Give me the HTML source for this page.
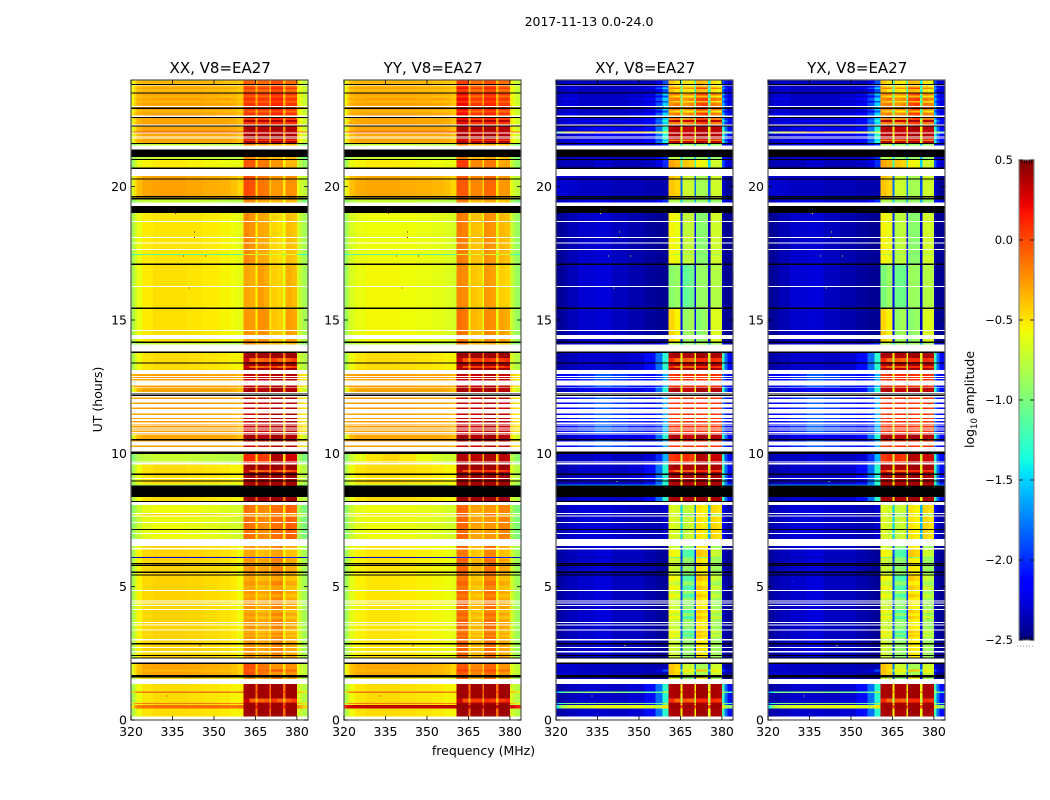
<!DOCTYPE html>
<html>
<head>
<meta charset="utf-8">
<title>2017-11-13 0.0-24.0</title>
<style>
html,body{margin:0;padding:0;background:#fff;width:1050px;height:800px;overflow:hidden}
svg{display:block}
text{font-family:"DejaVu Sans","Liberation Sans",sans-serif;fill:#000}
</style>
</head>
<body>
<svg id="figure" xmlns="http://www.w3.org/2000/svg" width="1050" height="800" viewBox="0 0 1050 800">
<rect x="0" y="0" width="1050" height="800" fill="#fff"/>
<text x="589" y="26" font-size="12.5" text-anchor="middle">2017-11-13 0.0-24.0</text>
<text x="0" y="0" font-size="12.5" text-anchor="middle" transform="translate(102,399.5) rotate(-90)">UT (hours)</text>
<text x="483.5" y="755" font-size="12.5" text-anchor="middle">frequency (MHz)</text>
<text x="0" y="0" font-size="12.5" text-anchor="middle" transform="translate(974,399.5) rotate(-90)">log<tspan font-size="8.5" dy="3">10</tspan><tspan dy="-3"> amplitude</tspan></text>
<g id="panels"></g>
<g id="colorbar"></g>
</svg>
<script>
// Frequency channel edges (MHz)
const freqEdges = [320,321,322,324,328,334,340,346,352,356,358.5,360.6,362.8,365.1,365.8,368,370,370.6,372.8,375,375.8,378,380,381,382,384];
const xTickValues = [320,335,350,365,380];
const yTickValues = [0,5,10,15,20];
const colorbarTicks = [0.5,0,-0.5,-1,-1.5,-2,-2.5];
const panelTitles = ["XX, V8=EA27","YY, V8=EA27","XY, V8=EA27","YX, V8=EA27"];

// Spectrum classes, one row per class in each spectra array
const spectrumClasses = ["a","a1","a2","b","b2","b3","c","e","E","f","d","g","g2","h","d2","L","G","R","N","C","e2","i"];

// Time rows: [end hour, spectrum class]; W = no data, K = flagged
const timeRows = [
[.13,"W"],[.44,"e"],[.56,"E"],[.60,"e"],[.64,"L"],[.66,"e"],[.80,"e2"],[1.02,"e"],[1.06,"L"],[1.35,"e"],[1.53,"W"],[1.59,"b"],[1.69,"K"],[1.82,"c"],[1.9,"h"],[2.10,"c"],[2.15,"K"],[2.31,"W"],[2.35,"K"],[2.40,"b"],[2.44,"K"],[2.54,"b"],[2.58,"W"],[2.70,"b"],[2.74,"W"],[2.84,"b"],[2.88,"K"],[2.98,"b"],[3.03,"W"],[3.12,"b"],[3.2,"i"],[3.27,"b"],[3.35,"i"],[3.40,"W"],[3.54,"b"],[3.58,"W"],[3.63,"b"],[3.67,"W"],[3.78,"b"],[3.9,"i"],[4.02,"b"],[4.13,"i"],[4.17,"W"],[4.27,"b"],[4.31,"W"],[4.36,"b"],[4.40,"W"],[4.45,"b"],[4.49,"W"],[4.6,"b"],[4.72,"i"],[4.84,"b"],[4.88,"W"],[5.05,"i"],[5.22,"b"],[5.42,"i"],[5.46,"K"],[5.52,"b"],[5.56,"K"],[5.78,"b"],[5.82,"K"],[5.84,"b"],[5.88,"K"],[6.08,"b"],[6.12,"N"],[6.40,"i"],[6.45,"W"],[6.53,"b"],[6.79,"W"],[6.98,"b2"],[7.02,"W"],[7.13,"b2"],[7.17,"K"],[7.39,"b2"],[7.43,"W"],[7.63,"b2"],[7.67,"W"],[7.73,"b"],[7.77,"W"],[8.06,"b2"],[8.18,"W"],[8.22,"K"],[8.36,"e"],[8.80,"K"],[8.84,"G"],[8.95,"e"],[8.99,"K"],[9.03,"e"],[9.07,"W"],[9.19,"e"],[9.24,"K"],[9.30,"e"],[9.38,"e2"],[9.59,"e"],[9.63,"W"],[9.65,"d2"],[9.69,"W"],[9.98,"d2"],[10.07,"K"],[10.24,"W"],[10.29,"f"],[10.42,"W"],[10.44,"f"],[10.46,"W"],[10.49,"f"],[10.54,"K"],[10.71,"d"],[10.74,"W"],[10.77,"f"],[10.80,"W"],[10.83,"f"],[10.86,"W"],[10.90,"f"],[10.93,"W"],[10.96,"f"],[10.99,"W"],[11.02,"f"],[11.05,"W"],[11.09,"f"],[11.16,"W"],[11.21,"f"],[11.28,"W"],[11.33,"f"],[11.44,"W"],[11.49,"f"],[11.66,"W"],[11.71,"f"],[11.85,"W"],[11.90,"f"],[12.04,"W"],[12.09,"f"],[12.15,"W"],[12.19,"K"],[12.20,"W"],[12.24,"K"],[12.30,"W"],[12.46,"d"],[12.48,"W"],[12.55,"f"],[12.74,"W"],[12.78,"f"],[12.83,"W"],[12.87,"f"],[12.90,"W"],[12.97,"f"],[13.12,"W"],[13.2,"e"],[13.27,"e2"],[13.36,"e"],[13.40,"K"],[13.43,"e"],[13.57,"e2"],[13.77,"e"],[13.81,"K"],[14.09,"W"],[14.13,"b3"],[14.20,"K"],[14.28,"a1"],[14.44,"W"],[14.58,"a1"],[14.62,"W"],[15.42,"a1"],[15.46,"K"],[16.23,"a"],[16.27,"W"],[17.07,"a"],[17.11,"K"],[17.44,"a2"],[17.48,"C"],[17.63,"a2"],[17.67,"W"],[17.86,"a2"],[17.90,"W"],[18.08,"a2"],[18.12,"W"],[18.67,"a2"],[18.71,"W"],[19.02,"a2"],[19.27,"K"],[19.40,"W"],[19.51,"b3"],[19.59,"K"],[19.61,"c"],[19.65,"K"],[20.26,"c"],[20.30,"K"],[20.40,"c"],[20.67,"W"],[20.72,"K"],[21.00,"g"],[21.04,"K"],[21.12,"b3"],[21.39,"K"],[21.55,"W"],[21.60,"b3"],[21.64,"K"],[21.72,"d"],[21.76,"g2"],[21.81,"d"],[21.84,"W"],[21.86,"d"],[21.89,"W"],[21.99,"d"],[22.03,"W"],[22.06,"R"],[22.26,"d"],[22.30,"K"],[22.34,"W"],[22.42,"g2"],[22.5,"d"],[22.57,"g2"],[22.61,"K"],[22.66,"W"],[22.78,"g2"],[22.85,"h"],[22.92,"g2"],[22.96,"K"],[22.99,"g2"],[23.03,"W"],[23.15,"g2"],[23.22,"h"],[23.35,"g2"],[23.42,"h"],[23.49,"g2"],[23.53,"K"],[23.66,"h"],[23.72,"g2"],[23.79,"h"],[23.82,"W"],[23.85,"K"],[24,"h"]
];

const spectraXX = [
[-.85,-.72,-.6,-.52,-.48,-.48,-.5,-.52,-.55,-.58,-.62,-.3,-.32,-.55,-.27,-.32,-.55,-.42,-.45,-.6,-.32,-.37,-.65,-.75,-.85],
[-.85,-.72,-.6,-.52,-.48,-.48,-.5,-.52,-.55,-.58,-.62,-.24,-.26,-.55,-.22,-.24,-.55,-.4,-.42,-.6,-.27,-.3,-.65,-.75,-.85],
[-.85,-.72,-.6,-.52,-.5,-.5,-.5,-.52,-.55,-.58,-.62,-.2,-.24,-.55,-.3,-.32,-.55,-.45,-.48,-.6,-.37,-.4,-.65,-.75,-.85],
[-.85,-.72,-.55,-.46,-.44,-.44,-.45,-.47,-.49,-.52,-.58,-.26,-.24,-.5,-.3,-.28,-.5,-.2,-.18,-.55,-.3,-.32,-.62,-.75,-.85],
[-.95,-.85,-.72,-.62,-.58,-.58,-.6,-.62,-.65,-.68,-.7,-.12,-.14,-.55,-.2,-.22,-.5,-.12,-.12,-.5,-.06,-.1,-.8,-.9,-1],
[-.95,-.88,-.8,-.75,-.72,-.72,-.72,-.75,-.78,-.8,-.8,-.2,-.2,-.5,-.3,-.3,-.5,-.35,-.35,-.6,-.35,-.35,-.85,-.9,-1],
[-.65,-.5,-.38,-.3,-.28,-.28,-.3,-.32,-.34,-.38,-.45,0,-.02,-.45,-.14,-.16,-.45,-.25,-.25,-.5,-.22,-.24,-.6,-.7,-.75],
[-.85,-.72,-.58,-.5,-.47,-.47,-.48,-.5,-.52,-.55,-.55,.4,.42,-.12,.42,.4,-.12,.42,.42,-.12,.42,.42,-.65,-.72,-.8],
[-.5,-.3,-.15,-.12,-.1,-.1,-.1,-.1,-.12,-.14,-.1,.42,.44,.15,.42,.42,.15,.42,.42,.15,.42,.42,-.2,-.3,-.45],
[-.35,-.3,-.28,-.28,-.27,-.27,-.27,-.28,-.28,-.3,-.35,.3,.32,-.4,.3,.3,-.4,.35,.35,-.4,.35,.35,-.4,-.45,-.5],
[-.7,-.5,-.36,-.3,-.3,-.3,-.3,-.3,-.3,-.32,-.38,.38,.4,-.25,.36,.36,-.25,.4,.4,-.25,.38,.36,-.45,-.6,-.7],
[-.9,-.75,-.6,-.55,-.52,-.52,-.54,-.56,-.58,-.6,-.6,-.05,-.05,-.5,-.15,-.15,-.5,-.25,-.25,-.55,-.35,-.35,-.7,-.8,-.9],
[-.55,-.42,-.32,-.3,-.28,-.28,-.28,-.3,-.3,-.32,-.38,.06,.06,-.3,.06,.04,-.3,.12,.12,-.3,.06,.06,-.5,-.6,-.7],
[-.6,-.48,-.38,-.35,-.35,-.35,-.35,-.36,-.38,-.4,-.42,-.05,-.08,-.35,-.1,-.1,-.35,0,0,-.38,-.1,-.12,-.55,-.65,-.75],
[-1,-.9,-.8,-.75,-.72,-.72,-.74,-.76,-.78,-.8,-.75,.12,.1,-.5,.06,.04,-.5,.38,.38,-.5,.3,.28,-.8,-.9,-1],
[-.5,-.3,-.18,-.15,-.15,-.15,-.15,-.15,-.15,-.2,-.15,.4,.4,.05,.4,.4,.05,.4,.4,.05,.4,.4,-.3,-.4,-.5],
[-1,-.9,-.85,-.85,-.85,-.85,-.85,-.85,-.85,-.85,-.7,.3,.3,-.2,.3,.3,-.2,.3,.3,-.2,.3,.3,-.8,-.9,-1],
[-.2,-.1,0,0,0,0,0,0,0,0,0,.3,.3,.1,.3,.3,.1,.3,.3,.1,.3,.3,-.1,-.1,-.1],
[-2.3,-2.3,-2.3,-2.3,-2.3,-2.3,-2.3,-2.3,-2.3,-2.3,-2.3,-2,-2,-2.2,-2,-2,-2.2,-2,-2,-2.2,-2,-2,-2.3,-2.3,-2.3],
[-1.3,-1.2,-1.15,-1.15,-1.15,-1.15,-1.15,-1.15,-1.15,-1.15,-1.1,-.7,-.7,-1,-.7,-.7,-1,-.7,-.7,-1,-.7,-.7,-1.2,-1.2,-1.3],
[-.85,-.72,-.58,-.5,-.47,-.47,-.48,-.5,-.52,-.55,-.55,.3,-.08,-.35,-.1,-.05,-.35,.05,-.08,-.35,-.05,.05,-.65,-.72,-.8],
[-.85,-.72,-.55,-.46,-.44,-.44,-.45,-.47,-.49,-.52,-.58,-.32,-.3,-.5,-.38,-.36,-.5,-.3,-.28,-.55,-.38,-.4,-.62,-.75,-.85]
];

const spectraYY = [
[-.9,-.78,-.66,-.6,-.56,-.56,-.58,-.6,-.62,-.64,-.68,-.2,-.22,-.6,-.4,-.42,-.6,-.25,-.28,-.62,-.42,-.45,-.68,-.8,-.9],
[-.9,-.78,-.66,-.6,-.56,-.56,-.58,-.6,-.62,-.64,-.68,-.12,-.15,-.6,-.35,-.38,-.6,-.2,-.22,-.62,-.28,-.32,-.68,-.8,-.9],
[-.9,-.78,-.66,-.6,-.58,-.58,-.58,-.6,-.62,-.64,-.68,-.15,-.18,-.6,-.38,-.4,-.6,-.22,-.25,-.62,-.35,-.38,-.68,-.8,-.9],
[-.9,-.78,-.62,-.54,-.5,-.5,-.52,-.54,-.56,-.58,-.62,-.08,-.08,-.55,-.35,-.35,-.55,-.12,-.12,-.58,-.3,-.32,-.65,-.78,-.88],
[-.95,-.85,-.72,-.62,-.58,-.58,-.6,-.62,-.65,-.68,-.7,-.08,-.1,-.5,-.28,-.3,-.5,-.25,-.25,-.5,-.18,-.2,-.8,-.9,-1],
[-.95,-.88,-.8,-.75,-.72,-.72,-.72,-.75,-.78,-.8,-.8,-.15,-.15,-.5,-.35,-.35,-.5,-.3,-.3,-.6,-.4,-.4,-.85,-.9,-1],
[-.65,-.5,-.38,-.32,-.3,-.3,-.32,-.33,-.35,-.38,-.45,-.05,-.05,-.45,-.2,-.2,-.45,-.1,-.1,-.5,-.25,-.25,-.6,-.7,-.75],
[-.85,-.72,-.58,-.5,-.47,-.47,-.48,-.5,-.52,-.55,-.55,.42,.42,-.12,.42,.42,-.12,.42,.42,-.12,.42,.42,-.65,-.72,-.8],
[.15,.25,.3,.32,.34,.34,.34,.34,.34,.34,.34,.45,.45,.3,.45,.45,.3,.45,.45,.3,.45,.45,.3,.25,.15],
[-.35,-.3,-.28,-.28,-.27,-.27,-.27,-.28,-.28,-.3,-.35,.32,.32,-.4,.3,.3,-.4,.35,.35,-.4,.3,.3,-.4,-.45,-.5],
[-.7,-.5,-.36,-.3,-.3,-.3,-.3,-.3,-.3,-.32,-.38,.4,.4,-.25,.36,.36,-.25,.4,.4,-.25,.36,.36,-.45,-.6,-.7],
[-.9,-.75,-.6,-.55,-.52,-.52,-.54,-.56,-.58,-.6,-.6,.05,.05,-.5,-.2,-.2,-.5,-.15,-.15,-.55,-.3,-.3,-.7,-.8,-.9],
[-.55,-.42,-.32,-.3,-.28,-.28,-.28,-.3,-.3,-.32,-.38,.2,.2,-.3,.05,.05,-.3,.12,.12,-.3,.05,.05,-.5,-.6,-.7],
[-.6,-.48,-.38,-.35,-.35,-.35,-.35,-.36,-.38,-.4,-.42,.05,.05,-.35,-.12,-.12,-.35,0,0,-.38,-.12,-.12,-.55,-.65,-.75],
[-.95,-.85,-.72,-.62,-.5,-.45,-.5,-.6,-.68,-.72,-.7,.38,.36,-.4,.36,.34,-.4,.38,.38,-.4,.36,.34,-.75,-.85,-.95],
[-.5,-.3,-.18,-.15,-.15,-.15,-.15,-.15,-.15,-.2,-.15,.4,.4,.05,.4,.4,.05,.4,.4,.05,.4,.4,-.3,-.4,-.5],
[-1,-.9,-.85,-.85,-.85,-.85,-.85,-.85,-.85,-.85,-.7,.3,.3,-.2,.3,.3,-.2,.3,.3,-.2,.3,.3,-.8,-.9,-1],
[-.2,-.1,0,0,0,0,0,0,0,0,0,.3,.3,.1,.3,.3,.1,.3,.3,.1,.3,.3,-.1,-.1,-.1],
[-2.3,-2.3,-2.3,-2.3,-2.3,-2.3,-2.3,-2.3,-2.3,-2.3,-2.3,-2,-2,-2.2,-2,-2,-2.2,-2,-2,-2.2,-2,-2,-2.3,-2.3,-2.3],
[-1.3,-1.2,-1.15,-1.15,-1.15,-1.15,-1.15,-1.15,-1.15,-1.15,-1.1,-.7,-.7,-1,-.7,-.7,-1,-.7,-.7,-1,-.7,-.7,-1.2,-1.2,-1.3],
[-.85,-.72,-.58,-.5,-.47,-.47,-.48,-.5,-.52,-.55,-.55,.3,.0,-.35,.05,.05,-.35,.1,.05,-.35,.05,.1,-.65,-.72,-.8],
[-.9,-.78,-.62,-.54,-.5,-.5,-.52,-.54,-.56,-.58,-.62,-.15,-.15,-.55,-.4,-.42,-.55,-.2,-.2,-.58,-.38,-.4,-.65,-.78,-.88]
];

const spectraXY = [
[-2.45,-2.45,-2.42,-2.35,-2.28,-2.26,-2.33,-2.38,-2.42,-2.44,-2.45,-.95,-.9,-2.2,-1.1,-1.05,-2.25,-.9,-.9,-2.3,-.8,-.8,-2.4,-2.45,-2.45],
[-2.45,-2.45,-2.42,-2.36,-2.3,-2.28,-2.33,-2.38,-2.42,-2.44,-2.45,-.45,-.55,-2.1,-.9,-.85,-2.1,-.95,-.9,-2.3,-.65,-.65,-2.4,-2.45,-2.45],
[-2.45,-2.45,-2.42,-2.36,-2.3,-2.28,-2.33,-2.38,-2.42,-2.44,-2.45,-.55,-.6,-2,-.75,-.75,-2.1,-.95,-.95,-2.3,-.7,-.7,-2.4,-2.45,-2.45],
[-2.45,-2.42,-2.38,-2.34,-2.3,-2.26,-2.33,-2.33,-2.38,-2.42,-2.44,-.7,-.75,-1.9,-.9,-.95,-2,-.5,-.55,-2.2,-.85,-.9,-2.35,-2.4,-2.45],
[-2.42,-2.38,-2.34,-2.3,-2.27,-2.27,-2.3,-2.33,-2.35,-2.35,-2.3,-.65,-.7,-1.5,-.75,-.7,-1.7,-.5,-.55,-1.6,-.45,-.5,-2.1,-2.3,-2.4],
[-2.4,-2.35,-2.3,-2.3,-2.25,-2.25,-2.3,-2.3,-2.3,-2.2,-2,-.8,-.8,-1.5,-.9,-.9,-1.6,-.9,-.9,-1.6,-.9,-.9,-2.1,-2.2,-2.3],
[-2.3,-2.28,-2.28,-2.3,-2.32,-2.32,-2.35,-2.35,-2.38,-2.38,-2.38,-.4,-.45,-1.8,-.7,-.72,-1.8,-.85,-.85,-1.9,-.7,-.7,-2.3,-2.4,-2.45],
[-2.42,-2.4,-2.38,-2.34,-2.3,-2.3,-2.32,-2.28,-2.1,-1.8,-1.3,.38,.4,-.55,.38,.38,-.55,.42,.42,-.6,.4,.38,-1.2,-1.8,-2.1],
[-1.3,-1,-.8,-.7,-.65,-.6,-.6,-.6,-.65,-.7,-.5,.42,.42,0,.42,.42,0,.42,.42,0,.42,.42,-.5,-.8,-.9],
[-2.25,-2.2,-2.15,-2.1,-2,-1.85,-1.95,-2.05,-2.1,-2,-1.6,.05,.1,-.65,.1,.1,-.7,.1,.05,-.7,.1,.05,-1.8,-2.05,-2.2],
[-2.4,-2.36,-2.32,-2.28,-2.22,-2.12,-2.2,-2.22,-2.1,-1.8,-1.3,.35,.38,-.6,.32,.32,-.6,.4,.4,-.6,.36,.34,-1.3,-1.8,-2.1],
[-2.42,-2.38,-2.35,-2.35,-2.35,-2.3,-2.35,-2.35,-2.33,-2.25,-2,-.3,-.35,-1.2,-.4,-.45,-1.2,-.55,-.6,-1.5,-.7,-.7,-1.9,-2.2,-2.3],
[-2.4,-2.3,-2.25,-2.25,-2.3,-2.3,-2.3,-2.25,-2.12,-1.9,-1.5,-.2,-.15,-.9,-.25,-.2,-1,0,.05,-1,-.15,-.2,-1.6,-2,-2.2],
[-2.42,-2.38,-2.33,-2.3,-2.33,-2.33,-2.33,-2.33,-2.33,-2.22,-1.9,-.4,-.5,-1.2,-.5,-.55,-1.3,-.35,-.4,-1.4,-.5,-.6,-1.9,-2.2,-2.3],
[-2.42,-2.38,-2.33,-2.33,-2.33,-2.28,-2.33,-2.33,-2.28,-2,-1.6,.05,.1,-.7,.1,.05,-.7,.38,.35,-.7,.3,.3,-1.3,-1.9,-2.1],
[-1.6,-1.3,-1.1,-1,-.95,-.95,-.95,-1,-1.1,-1.1,-.8,.4,.4,-.2,.4,.4,-.2,.4,.4,-.2,.4,.4,-.8,-1,-1.2],
[-1.8,-1.7,-1.7,-1.7,-1.7,-1.7,-1.7,-1.7,-1.7,-1.6,-1.4,.3,.3,-.6,.3,.3,-.6,.3,.3,-.6,.3,.3,-1.4,-1.6,-1.7],
[-1.3,-.9,-.7,-.55,-.45,-.3,-.45,-.5,-.55,-.7,-.6,.3,.3,-.3,.3,.3,-.3,.3,.3,-.3,.3,.3,-.7,-.9,-1.1],
[-2.4,-2.4,-2.4,-2.4,-2.4,-2.4,-2.4,-2.4,-2.4,-2.4,-2.4,-1,-1,-2.2,-1,-1,-2.2,-1,-1,-2.2,-1,-1,-2.4,-2.4,-2.4],
[-2.4,-2.4,-2.4,-2.35,-2.3,-2.3,-2.35,-2.4,-2.4,-2.4,-2.4,-.8,-.8,-2,-.9,-.9,-2,-1,-1,-2.2,-.9,-.9,-2.4,-2.4,-2.4],
[-2.42,-2.4,-2.38,-2.34,-2.3,-2.3,-2.32,-2.28,-2.1,-1.8,-1.3,.1,-.1,-.8,-.05,-.1,-.8,.1,.1,-.8,.1,.05,-1.3,-1.8,-2.1],
[-2.45,-2.42,-2.38,-2.34,-2.3,-2.26,-2.33,-2.33,-2.38,-2.42,-2.44,-.55,-.6,-1.9,-1.15,-1.2,-2,-.4,-.45,-2.2,-.7,-.75,-2.35,-2.4,-2.45]
];

const spectraYX = [
[-2.45,-2.45,-2.42,-2.35,-2.28,-2.26,-2.33,-2.38,-2.42,-2.44,-2.45,-1,-.9,-2.2,-1.05,-1.05,-2.25,-.88,-.9,-2.3,-.8,-.8,-2.4,-2.45,-2.45],
[-2.45,-2.45,-2.42,-2.36,-2.3,-2.28,-2.33,-2.38,-2.42,-2.44,-2.45,-.45,-.55,-2.1,-.9,-.85,-2.1,-.95,-.9,-2.3,-.67,-.65,-2.4,-2.45,-2.45],
[-2.45,-2.45,-2.42,-2.36,-2.3,-2.28,-2.33,-2.38,-2.42,-2.44,-2.45,-.55,-.6,-2,-.78,-.75,-2.1,-.95,-.95,-2.3,-.7,-.7,-2.4,-2.45,-2.45],
[-2.45,-2.42,-2.38,-2.34,-2.3,-2.26,-2.33,-2.33,-2.38,-2.42,-2.44,-.7,-.75,-1.9,-.9,-.95,-2,-.52,-.55,-2.2,-.85,-.9,-2.35,-2.4,-2.45],
[-2.42,-2.38,-2.34,-2.3,-2.27,-2.27,-2.3,-2.33,-2.35,-2.35,-2.3,-.65,-.7,-1.5,-.75,-.7,-1.7,-.5,-.55,-1.6,-.45,-.5,-2.1,-2.3,-2.4],
[-2.4,-2.35,-2.3,-2.3,-2.25,-2.25,-2.3,-2.3,-2.3,-2.2,-2,-.8,-.8,-1.5,-.9,-.9,-1.6,-.9,-.9,-1.6,-.9,-.9,-2.1,-2.2,-2.3],
[-2.3,-2.28,-2.28,-2.3,-2.32,-2.32,-2.35,-2.35,-2.38,-2.38,-2.38,-.4,-.45,-1.8,-.7,-.72,-1.8,-.85,-.85,-1.9,-.7,-.7,-2.3,-2.4,-2.45],
[-2.42,-2.4,-2.38,-2.34,-2.3,-2.3,-2.32,-2.28,-2.1,-1.8,-1.3,.38,.4,-.55,.38,.38,-.55,.42,.42,-.6,.4,.38,-1.2,-1.8,-2.1],
[-1.3,-1,-.8,-.7,-.65,-.6,-.6,-.6,-.65,-.7,-.5,.42,.42,0,.42,.42,0,.42,.42,0,.42,.42,-.5,-.8,-.9],
[-2.25,-2.2,-2.15,-2.1,-2,-1.85,-1.95,-2.05,-2.1,-2,-1.6,.05,.1,-.65,.1,.1,-.7,.1,.05,-.7,.1,.05,-1.8,-2.05,-2.2],
[-2.4,-2.36,-2.32,-2.28,-2.22,-2.12,-2.2,-2.22,-2.1,-1.8,-1.3,.35,.38,-.6,.32,.32,-.6,.4,.4,-.6,.36,.34,-1.3,-1.8,-2.1],
[-2.42,-2.38,-2.35,-2.35,-2.35,-2.3,-2.35,-2.35,-2.33,-2.25,-2,-.3,-.35,-1.2,-.4,-.45,-1.2,-.55,-.6,-1.5,-.7,-.7,-1.9,-2.2,-2.3],
[-2.4,-2.3,-2.25,-2.25,-2.3,-2.3,-2.3,-2.25,-2.12,-1.9,-1.5,-.2,-.15,-.9,-.25,-.2,-1,0,.05,-1,-.15,-.2,-1.6,-2,-2.2],
[-2.42,-2.38,-2.33,-2.3,-2.33,-2.33,-2.33,-2.33,-2.33,-2.22,-1.9,-.4,-.5,-1.2,-.5,-.55,-1.3,-.35,-.4,-1.4,-.5,-.6,-1.9,-2.2,-2.3],
[-2.42,-2.38,-2.33,-2.33,-2.33,-2.28,-2.33,-2.33,-2.28,-2,-1.6,.05,.1,-.7,.1,.05,-.7,.38,.35,-.7,.3,.3,-1.3,-1.9,-2.1],
[-1.6,-1.3,-1.1,-1,-.95,-.95,-.95,-1,-1.1,-1.1,-.8,.4,.4,-.2,.4,.4,-.2,.4,.4,-.2,.4,.4,-.8,-1,-1.2],
[-1.8,-1.7,-1.7,-1.7,-1.7,-1.7,-1.7,-1.7,-1.7,-1.6,-1.4,.3,.3,-.6,.3,.3,-.6,.3,.3,-.6,.3,.3,-1.4,-1.6,-1.7],
[-1.3,-.9,-.7,-.55,-.45,-.3,-.45,-.5,-.55,-.7,-.6,.3,.3,-.3,.3,.3,-.3,.3,.3,-.3,.3,.3,-.7,-.9,-1.1],
[-2.4,-2.4,-2.4,-2.4,-2.4,-2.4,-2.4,-2.4,-2.4,-2.4,-2.4,-1,-1,-2.2,-1,-1,-2.2,-1,-1,-2.2,-1,-1,-2.4,-2.4,-2.4],
[-2.4,-2.4,-2.4,-2.35,-2.3,-2.3,-2.35,-2.4,-2.4,-2.4,-2.4,-.8,-.8,-2,-.9,-.9,-2,-1,-1,-2.2,-.9,-.9,-2.4,-2.4,-2.4],
[-2.42,-2.4,-2.38,-2.34,-2.3,-2.3,-2.32,-2.28,-2.1,-1.8,-1.3,.1,-.1,-.8,-.05,-.1,-.8,.1,.1,-.8,.1,.05,-1.3,-1.8,-2.1],
[-2.45,-2.42,-2.38,-2.34,-2.3,-2.26,-2.33,-2.33,-2.38,-2.42,-2.44,-.55,-.6,-1.9,-1.15,-1.2,-2,-.4,-.45,-2.2,-.7,-.75,-2.35,-2.4,-2.45]
];

const panelSpectra = [spectraXX,spectraYY,spectraXY,spectraYX];

// Isolated outlier channels: frequency (MHz), hour, log amplitude
const speckFreqs = [343,343,347,339,333,342,345,336,341,329];
const speckHours = [18.3,18.1,17.4,17.4,0.9,8.95,2.8,19,16.2,5.2];
const speckValues = [.5,.5,.3,.3,.2,.1,.4,.4,.2,-.9];

const svgNS = "http://www.w3.org/2000/svg";
const panelLefts = [131,344,556,768];
const panelWidth = 177;
const plotTop = 80;
const plotBottom = 720;

function xScale(left, mhz){ return left + (mhz-320)/(384-320)*panelWidth; }
function yScale(hour){ return plotBottom - hour/24*(plotBottom-plotTop); }

function interp(t, pts){
  if(t<=pts[0][0]) return pts[0][1];
  for(let i=1;i<pts.length;i++){
    if(t<=pts[i][0]){
      const a=pts[i-1], b=pts[i];
      return a[1]+(b[1]-a[1])*(t-a[0])/(b[0]-a[0]);
    }
  }
  return pts[pts.length-1][1];
}
function jet(v){
  const t=Math.max(0,Math.min(1,(v+2.5)/3));
  const r=interp(t,[[0,0],[.35,0],[.66,1],[.89,1],[1,.5]]);
  const g=interp(t,[[0,0],[.125,0],[.375,1],[.64,1],[.91,0],[1,0]]);
  const b=interp(t,[[0,.5],[.11,1],[.34,1],[.65,0],[1,0]]);
  return "rgb("+Math.round(r*255)+","+Math.round(g*255)+","+Math.round(b*255)+")";
}
function make(tag, attrs, parent){
  const el=document.createElementNS(svgNS,tag);
  for(const k in attrs) el.setAttribute(k,attrs[k]);
  parent.appendChild(el);
  return el;
}

const panelsGroup=document.getElementById("panels");
panelSpectra.forEach(function(spectra,p){
  const left=panelLefts[p];
  const g=make("g",{},panelsGroup);
  
  
  const cells=make("g",{"shape-rendering":"crispEdges"},g);
  
  
  let start=0;
  timeRows.forEach(function(row){
    const end=row[0], cls=row[1];
    const yTop=yScale(end), yBot=yScale(start);
    start=end;
    if(cls==="W") return;
    const ci=spectrumClasses.indexOf(cls);
    for(let c=0;c<freqEdges.length-1;c++){
      const x0=xScale(left,freqEdges[c]), x1=xScale(left,freqEdges[c+1]);
      const rect=make("rect",{x:x0,y:yTop,width:x1-x0,height:yBot-yTop,fill:cls==="K"?"#000":jet(spectra[ci][c])},cells);
      
      
    }
  });
  speckFreqs.forEach(function(f,i){
    const sp=make("rect",{x:xScale(left,f)-.5,y:yScale(speckHours[i])-.5,width:1,height:1,"shape-rendering":"crispEdges",fill:jet(p<2?speckValues[i]:speckValues[i]-1)},g);
    
    
  });
  const frame=make("rect",{x:left,y:plotTop,width:panelWidth,height:plotBottom-plotTop,fill:"none",stroke:"#555","stroke-width":1.2},g);
  
  
  const title=make("text",{x:left+panelWidth/2+.7,y:73,"font-size":15,"text-anchor":"middle"},g);
  title.textContent=panelTitles[p];
  
  
  xTickValues.forEach(function(v){
    const x=xScale(left,v);
    [[plotBottom,plotBottom-4],[plotTop,plotTop+4]].forEach(function(s){
      const t=make("line",{x1:x,x2:x,y1:s[0],y2:s[1],stroke:"#000","stroke-width":.8},g);
      
      
    });
    const lab=make("text",{x:x,y:736,"font-size":12.5,"text-anchor":"middle"},g);
    lab.textContent=String(v);
    
    
  });
  yTickValues.forEach(function(v){
    const y=yScale(v);
    [[left,left+4],[left+panelWidth,left+panelWidth-4]].forEach(function(s){
      const t=make("line",{x1:s[0],x2:s[1],y1:y,y2:y,stroke:"#000","stroke-width":.8},g);
      
      
    });
    const lab=make("text",{x:left-4,y:y+4.5,"font-size":12.5,"text-anchor":"end"},g);
    lab.textContent=String(v);
    
    
  });
});

// Colorbar
const cb=document.getElementById("colorbar");
const cbLeft=1019, cbRight=1034, cbTop=160, cbBottom=640;
function cbScale(v){ return cbBottom-(v+2.5)/3*(cbBottom-cbTop); }
const cbSwatches=make("g",{"shape-rendering":"crispEdges"},cb);


for(let i=0;i<240;i++){
  const v=-2.5+i/240*3;
  const sw=make("rect",{x:cbLeft,y:cbScale(v+3/240),width:cbRight-cbLeft,height:2.2,fill:jet(v+1.5/240)},cbSwatches);
  
  
}
const cbFrame=make("rect",{x:cbLeft,y:cbTop,width:cbRight-cbLeft,height:cbBottom-cbTop,fill:"none",stroke:"#888","stroke-width":1.2},cb);


colorbarTicks.forEach(function(v){
  const y=cbScale(v);
  [[cbLeft,cbLeft+4],[cbRight,cbRight-4]].forEach(function(s){
    const t=make("line",{x1:s[0],x2:s[1],y1:y,y2:y,stroke:"#000","stroke-width":.8},cb);
    
    
  });
  const lab=make("text",{x:1013,y:y+4,"font-size":11.5,"text-anchor":"end",fill:"#000"},cb);
  lab.textContent=v.toFixed(1).replace("-","\u2212");
  
  
});
for(let k=0;k<5;k++){
  const x=cbLeft+3+k*2.4;
  [[cbTop,cbTop+4],[cbBottom,cbBottom-4]].forEach(function(s){
    const t=make("line",{x1:x,x2:x,y1:s[0],y2:s[1],stroke:"#000","stroke-width":.6},cb);
    
    
  });
}
const dots=make("line",{x1:1017,x2:1035,y1:646,y2:646,stroke:"#999","stroke-width":1,"stroke-dasharray":"1 2"},cb);


</script>
</body>
</html>
